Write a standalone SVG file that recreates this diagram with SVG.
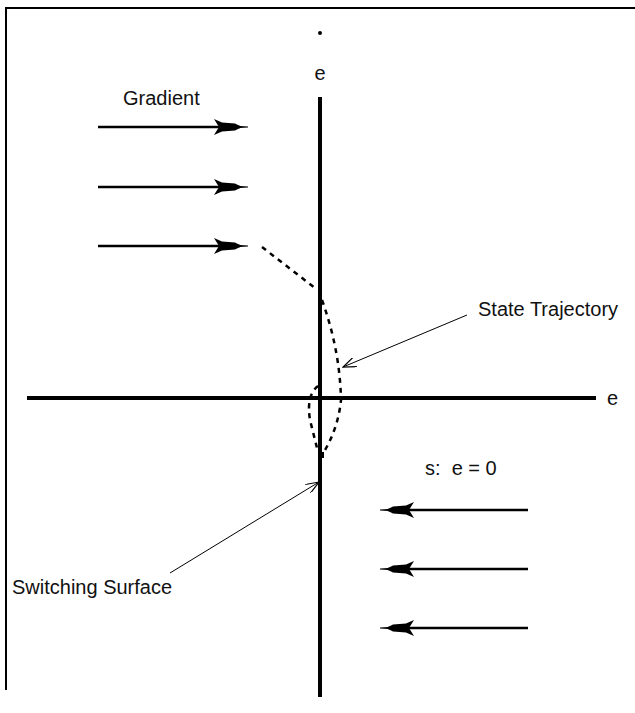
<svg xmlns="http://www.w3.org/2000/svg" width="635" height="713" viewBox="0 0 635 713">
<style>
text{font-family:"Liberation Sans",Arial,sans-serif;font-size:20px;fill:#111}
.axis{stroke:#000;stroke-width:4;fill:none}
.vec{stroke:#000;stroke-width:2.5;fill:none}
.traj{stroke:#000;stroke-width:2.5;fill:none;stroke-dasharray:5 5}
.lead{stroke:#000;stroke-width:1;fill:none}
</style>
<defs>
<marker id="fat" viewBox="0 0 34 16" refX="26" refY="8" markerWidth="34" markerHeight="16" markerUnits="userSpaceOnUse" orient="auto">
<path d="M0,0 L8,3.5 L21,4.5 L26,7 L34,7.4 L34,8.6 L26,9 L21,11.5 L8,12.5 L0,16 L5,8 Z" fill="#000"/>
</marker>
<marker id="open" viewBox="0 0 14 10" refX="13" refY="5" markerWidth="14" markerHeight="10" markerUnits="userSpaceOnUse" orient="auto">
<path d="M0,0 L13,5 L0,10" fill="none" stroke="#000" stroke-width="1.2"/>
</marker>
</defs>
<g id="frame"><path d="M6,690 L6,8 L635,8" fill="none" stroke="#000" stroke-width="2"/></g>
<g id="axes">
<line class="axis" x1="320" y1="97" x2="320" y2="697"/>
<line class="axis" x1="27" y1="398" x2="596" y2="398"/>
<circle cx="320" cy="33" r="2" fill="#000"/>
<text x="320" y="80" text-anchor="middle">e</text>
<text x="607" y="405">e</text>
</g>
<g id="gradient">
<text x="123" y="105">Gradient</text>
</g>
<g id="switching-label"><text x="12" y="594">Switching Surface</text></g>
<g id="state-label"><text x="478" y="316">State Trajectory</text></g>
<g id="s-label"><text x="425" y="475" xml:space="preserve">s:  e = 0</text></g>
<g id="connectors">
<line class="vec" x1="98" y1="127" x2="240" y2="127" marker-end="url(#fat)"/>
<line class="vec" x1="98" y1="187" x2="240" y2="187" marker-end="url(#fat)"/>
<line class="vec" x1="98" y1="246" x2="240" y2="246" marker-end="url(#fat)"/>
<line class="vec" x1="528" y1="510" x2="388" y2="510" marker-end="url(#fat)"/>
<line class="vec" x1="528" y1="569" x2="388" y2="569" marker-end="url(#fat)"/>
<line class="vec" x1="528" y1="628" x2="388" y2="628" marker-end="url(#fat)"/>
<path class="traj" d="M262,247 L315,288"/>
<path class="traj" d="M322,300 Q340,350 341,400 Q338,430 322,455"/>
<path class="traj" d="M318,386 Q306,395 310,420 L318,452"/>
<rect x="318" y="452" width="6" height="6" fill="#000"/>
<line class="lead" x1="467" y1="315" x2="343" y2="367" marker-end="url(#open)"/>
<line class="lead" x1="170" y1="573" x2="319" y2="482" marker-end="url(#open)"/>
</g>
</svg>
